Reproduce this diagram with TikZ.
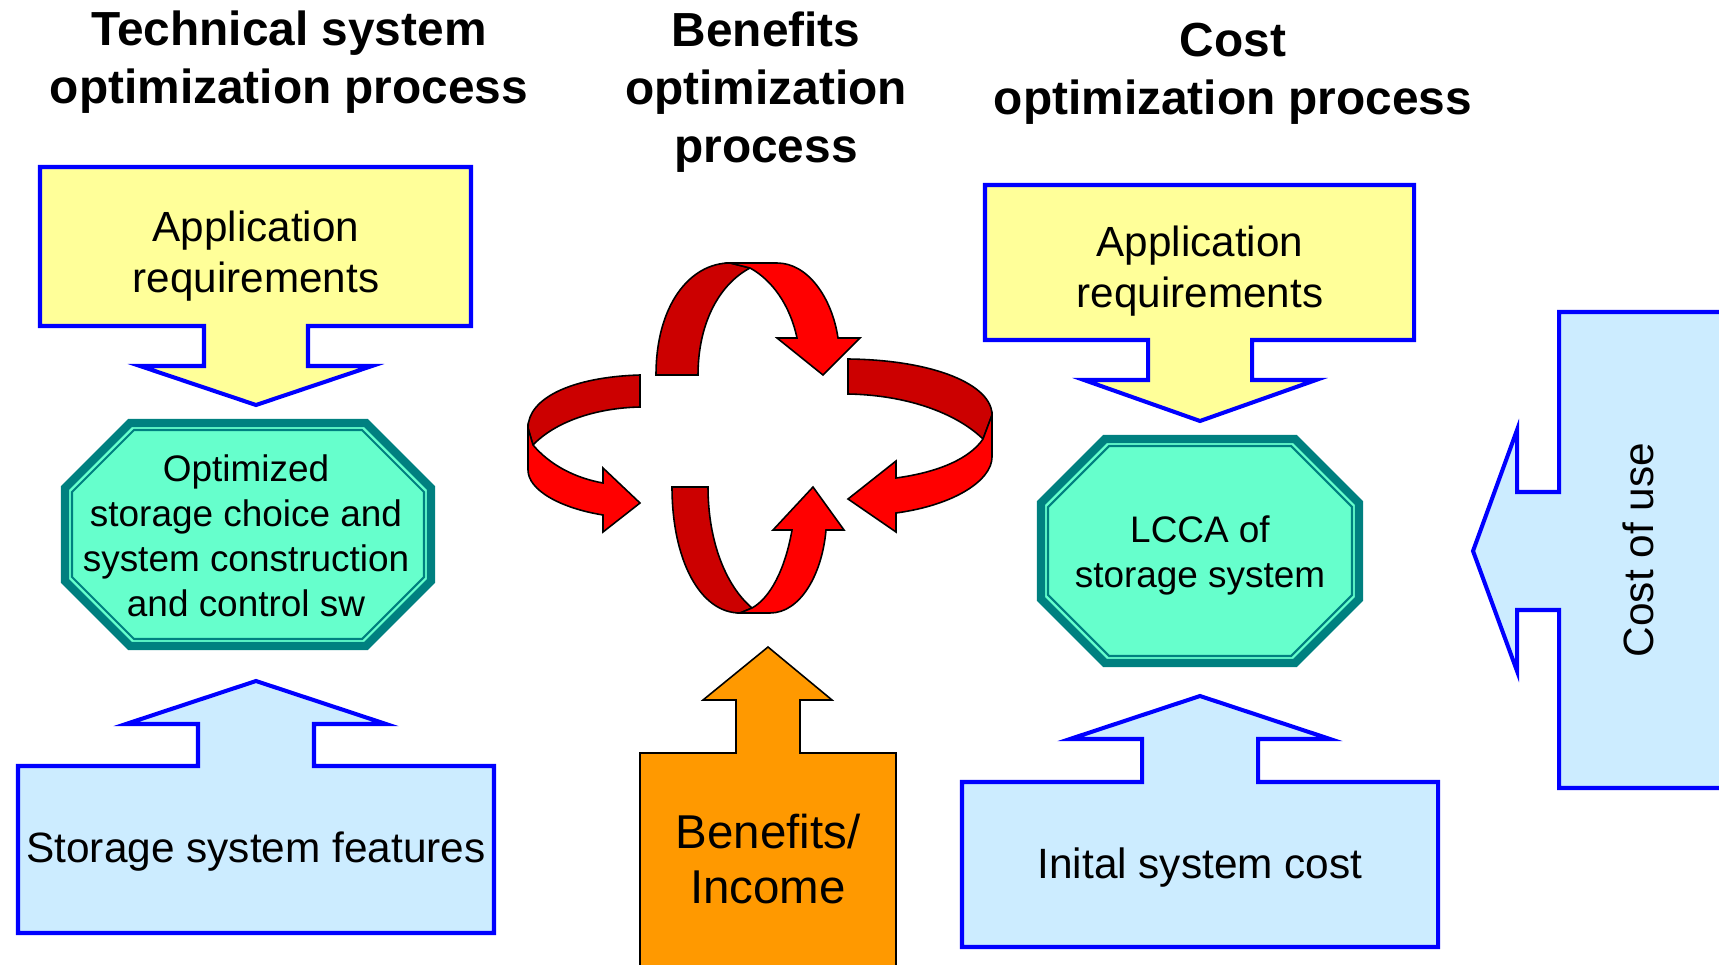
\documentclass[tikz,border=0pt]{standalone}
\usepackage{fontspec}
\setmainfont{Liberation Sans}
\definecolor{reqyellow}{RGB}{255,255,153}
\definecolor{featblue}{RGB}{204,236,255}
\definecolor{incomeorange}{RGB}{255,153,0}
\definecolor{octteal}{RGB}{0,128,128}
\definecolor{octfill}{RGB}{102,255,204}
\definecolor{ribbondark}{RGB}{204,0,0}
\definecolor{ribbonred}{RGB}{255,0,0}
\tikzset{
  callyellow/.style={draw=blue,line width=1.15pt,fill=reqyellow},
  callblue/.style={draw=blue,line width=1.15pt,fill=featblue},
  callorange/.style={draw=black,line width=0.45pt,fill=incomeorange},
  octouter/.style={draw=octteal,line width=2.4pt,fill=octfill},
  octinner/.style={draw=octteal,line width=0.6pt},
  ribbonback/.style={draw=black,line width=0.45pt,fill=ribbondark},
  ribbonfront/.style={draw=black,line width=0.45pt,fill=ribbonred},
  heading/.style={inner sep=0pt,align=center,font=\bfseries\fontsize{13.6}{16.5}\selectfont},
  reqtext/.style={inner sep=0pt,align=center,font=\fontsize{12}{14.65}\selectfont},
  octtext/.style={inner sep=0pt,align=center,font=\fontsize{10.5}{12.8}\selectfont},
  boxtext/.style={inner sep=0pt,anchor=base,font=\fontsize{12.05}{14.5}\selectfont},
  incometext/.style={inner sep=0pt,align=center,font=\fontsize{13.5}{15.9}\selectfont}
}
\begin{document}
\begin{tikzpicture}[x=0.01cm,y=-0.01cm]
\useasboundingbox (0,0) rectangle (1719,964);
\clip (0,0) rectangle (1719,964);

% headings
\node[heading] (techhead) at (289,62) {Technical system\\optimization process};
\node[heading] (benefhead) at (766,92) {Benefits\\optimization\\process};
\node[heading] (costhead) at (1233,74) {Cost\\optimization process};

% technical column
\draw[callyellow] (40,167) -- (471,167) -- (471,326) -- (308,326) -- (308,366) -- (372,366)
  -- (256,405) -- (140,366) -- (204,366) -- (204,326) -- (40,326) -- cycle;
\node[reqtext] (techreq) at (256,256) {Application\\requirements};

\draw[octouter] (130,423) -- (366,423) -- (431,488) -- (431,581) -- (366,646) -- (130,646)
  -- (65,581) -- (65,488) -- cycle;
\draw[octinner] (134,430) -- (362,430) -- (424,492) -- (424,577) -- (362,639) -- (134,639)
  -- (72,577) -- (72,492) -- cycle;
\node[octtext] (techopt) at (246,536) {Optimized\\storage choice and\\system construction\\and control sw};

\draw[callblue] (18,933) -- (18,766) -- (198,766) -- (198,724) -- (126,724) -- (256,681)
  -- (386,724) -- (314,724) -- (314,766) -- (494,766) -- (494,933) -- cycle;
\node[boxtext] (techfeat) at (256,862) {Storage system features};

% benefits column: four turning ribbons
\draw[ribbonback] (656,375) .. controls (656,305) and (690,263) .. (730,263) -- (750,268)
  .. controls (718,285) and (698,325) .. (698,375) -- cycle;
\draw[ribbonfront] (730,263) -- (777,263) .. controls (808,263) and (832,298) .. (838,338)
  -- (860,338) -- (823,375) -- (777,338) -- (797,338)
  .. controls (790,305) and (772,280) .. (750,268) -- cycle;

\draw[ribbonback] (848,359) .. controls (935,360) and (992,385) .. (992,415) -- (983,439)
  .. controls (955,412) and (905,395) .. (848,394) -- cycle;
\draw[ribbonfront] (992,415) -- (983,439) .. controls (970,458) and (940,472) .. (896,478)
  -- (896,461) -- (848,499) -- (896,532) -- (896,513)
  .. controls (955,505) and (992,480) .. (992,457) -- cycle;

\draw[ribbonback] (640,375) .. controls (572,377) and (528,398) .. (528,428) -- (533,445)
  .. controls (555,422) and (595,408) .. (640,407) -- cycle;
\draw[ribbonfront] (528,428) -- (533,445) .. controls (550,465) and (575,478) .. (603,483)
  -- (603,468) -- (640,503) -- (603,532) -- (603,515)
  .. controls (560,508) and (528,490) .. (528,470) -- cycle;

\draw[ribbonback] (672,487) .. controls (672,560) and (700,613) .. (740,613) -- (752,608)
  .. controls (725,585) and (708,540) .. (708,487) -- cycle;
\draw[ribbonfront] (740,613) -- (770,613) .. controls (800,613) and (822,575) .. (826,530)
  -- (844,530) -- (813,487) -- (773,530) -- (792,530)
  .. controls (785,570) and (770,598) .. (752,608) -- cycle;

\draw[callorange] (640,1000) -- (640,753) -- (736,753) -- (736,700) -- (703,700) -- (768,647)
  -- (832,700) -- (800,700) -- (800,753) -- (896,753) -- (896,1000) -- cycle;
\node[incometext] (income) at (768,859) {Benefits/\\Income};

% cost column
\draw[callyellow] (985,185) -- (1414,185) -- (1414,340) -- (1252,340) -- (1252,380) -- (1316,380)
  -- (1200,421) -- (1084,380) -- (1148,380) -- (1148,340) -- (985,340) -- cycle;
\node[reqtext] (costreq) at (1200,271) {Application\\requirements};

\draw[octouter] (1105,439) -- (1295,439) -- (1359,503) -- (1359,599) -- (1295,663) -- (1105,663)
  -- (1041,599) -- (1041,503) -- cycle;
\draw[octinner] (1109,446) -- (1291,446) -- (1352,507) -- (1352,595) -- (1291,656) -- (1109,656)
  -- (1048,595) -- (1048,507) -- cycle;
\node[octtext] (costlcca) at (1200,555) {LCCA of\\storage system};

\draw[callblue] (962,947) -- (962,782) -- (1142,782) -- (1142,739) -- (1070,739) -- (1200,696)
  -- (1330,739) -- (1258,739) -- (1258,782) -- (1438,782) -- (1438,947) -- cycle;
\node[boxtext] (costinit) at (1200,878) {Inital system cost};

\draw[callblue] (1760,312) -- (1559,312) -- (1559,492) -- (1517,492) -- (1517,430) -- (1473,551)
  -- (1517,671) -- (1517,610) -- (1559,610) -- (1559,788) -- (1760,788) -- cycle;
\node[boxtext,rotate=90] (costuse) at (1653,550) {Cost of use};
\end{tikzpicture}
\end{document}
